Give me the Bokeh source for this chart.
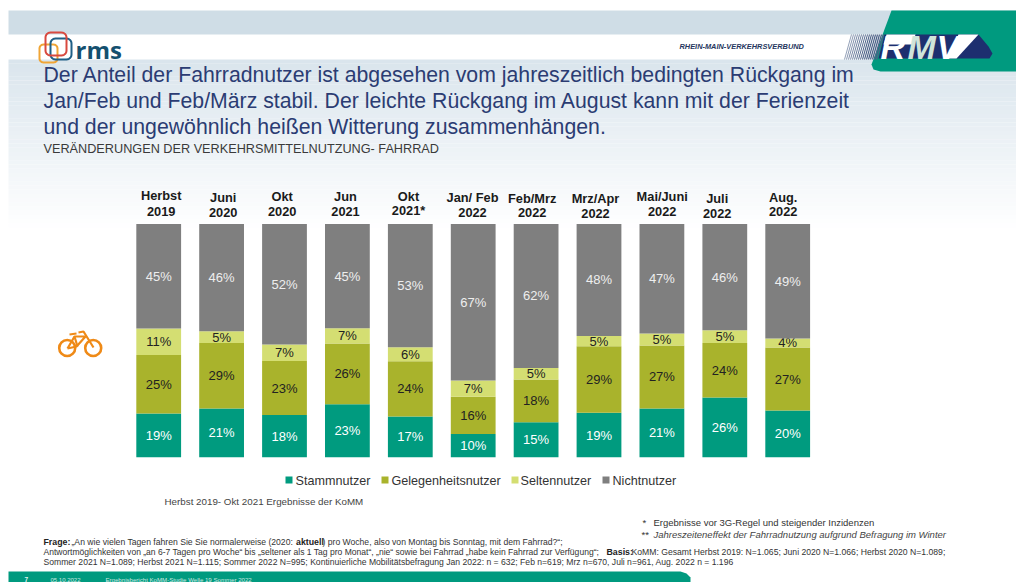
from bokeh.plotting import figure
from bokeh.embed import file_html
from bokeh.resources import INLINE
from bokeh.core.properties import value
from bokeh.models import Range1d
import math

# ---- data ----
top_line = ["Herbst", "Juni", "Okt", "Jun", "Okt", "Jan/ Feb", "Feb/Mrz", "Mrz/Apr", "Mai/Juni", "Juli", "Aug."]
bottom_line = ["2019", "2020", "2020", "2021", "2021*", "2022", "2022", "2022", "2022", "2022", "2022"]
stamm = [18.7, 20.9, 18.1, 22.7, 17.4, 9.9, 15.0, 19.0, 20.9, 25.6, 20.0]
gelegen = [25.1, 28.1, 23.1, 26.0, 23.7, 16.0, 18.3, 28.6, 27.0, 23.4, 27.0]
selten = [11.4, 5.0, 7.1, 6.6, 6.0, 7.0, 4.9, 4.4, 5.1, 5.4, 3.9]
nicht = [44.8, 46.0, 51.7, 44.7, 52.9, 67.1, 61.8, 48.0, 47.0, 45.6, 49.1]
stamm_lbl = ["19%", "21%", "18%", "23%", "17%", "10%", "15%", "19%", "21%", "26%", "20%"]
gelegen_lbl = ["25%", "29%", "23%", "26%", "24%", "16%", "18%", "29%", "27%", "24%", "27%"]
selten_lbl = ["11%", "5%", "7%", "7%", "6%", "7%", "5%", "5%", "5%", "5%", "4%"]
nicht_lbl = ["45%", "46%", "52%", "45%", "53%", "67%", "62%", "48%", "47%", "46%", "49%"]
series_names = ["Stammnutzer", "Gelegenheitsnutzer", "Seltennutzer", "Nichtnutzer"]
series_colors = ["#009b7f", "#a9b32c", "#d4de72", "#7f7f7f"]
label_colors = ["#ffffff", "#222222", "#222222", "#eeeeee"]

title_lines = [
    "Der Anteil der Fahrradnutzer ist abgesehen vom jahreszeitlich bedingten Rückgang im",
    "Jan/Feb und Feb/März stabil. Der leichte Rückgang im August kann mit der Ferienzeit",
    "und der ungewöhnlich heißen Witterung zusammenhängen.",
]
subtitle = "VERÄNDERUNGEN DER VERKEHRSMITTELNUTZUNG- FAHRRAD"

W, H = 1016, 582
FONT = value("Liberation Sans")
BAR_X0, BAR_STEP = 158.2, 62.9
PCT_BOTTOM, PCT_PX = 456.7, 2.333

p = figure(width=W, height=H, output_backend="svg", toolbar_location=None,
           x_range=Range1d(-BAR_X0 / BAR_STEP, (W - BAR_X0) / BAR_STEP),
           y_range=Range1d((PCT_BOTTOM - H) / PCT_PX, PCT_BOTTOM / PCT_PX),
           min_border=0, outline_line_color=None, x_axis_type=None, y_axis_type=None)
p.grid.visible = False
p.background_fill_color = "#ffffff"
p.border_fill_color = "#ffffff"
p.extra_x_ranges["px"] = Range1d(0, W)
p.extra_y_ranges["px"] = Range1d(H, 0)
PX = dict(x_range_name="px", y_range_name="px")


def txt(x, y, s, size, color="#333333", style="normal", align="left", font=FONT):
    p.text(x=[x], y=[y], text=[s], text_font=font, text_font_size=value(f"{size}px"),
           text_font_style=style, text_color=color, text_align=align, text_baseline="middle", **PX)


def rrect(x0, y0, x1, y1, r, color, lw=2):
    pts = []
    for cx, cy, a0 in [(x1 - r, y0 + r, -90), (x1 - r, y1 - r, 0), (x0 + r, y1 - r, 90), (x0 + r, y0 + r, 180)]:
        for k in range(7):
            a = math.radians(a0 + 15 * k)
            pts.append((cx + r * math.cos(a), cy + r * math.sin(a)))
    pts.append(pts[0])
    p.line([a for a, _ in pts], [b for _, b in pts], line_color=color, line_width=lw, **PX)


# ---- slide background ----
p.quad(left=[8], right=[1016], top=[10], bottom=[34], fill_color="#cfdde6", line_color=None, **PX)
steps = 40
for k in range(steps):
    t = k / steps
    c0, c1 = (218, 229, 237), (255, 255, 255)
    col = "#%02x%02x%02x" % tuple(round(a + (b - a) * t) for a, b in zip(c0, c1))
    y = 59 + k * 4.2
    p.quad(left=[8], right=[1016], top=[y], bottom=[y + 4.3], fill_color=col, line_color=None, **PX)

# ---- RMV logo ----
p.patch([891, 1016, 1016, 880, 873, 871], [10, 10, 71, 71, 69, 64], fill_color="#009a7f", line_color=None, **PX)
for k in range(17):
    x = 847 + k * 2
    p.line([x + 4, x - 3], [34, 59], line_color="#4c6288", line_width=0.6 + k * 0.05, **PX)
p.patch([884, 978, 988, 992, 989, 878], [34, 34, 46, 53, 58, 58], fill_color="#1d2f6f", line_color=None, **PX)
p.patch([886, 915, 912, 883], [34, 34, 44, 44], fill_color="#ffffff", line_color=None, **PX)
p.patch([958, 978, 956, 947], [34, 34, 58, 58], fill_color="#ffffff", line_color=None, **PX)
txt(880, 46.5, "R", 34, "#ffffff", "bold italic")
txt(907, 46.5, "M", 34, "#cfe4da", "bold italic")
txt(936, 46.5, "V", 34, "#ffffff", "bold italic")
txt(679, 46, "RHEIN-MAIN-VERKEHRSVERBUND", 7.4, "#26365e", "bold italic")

# ---- rms logo ----
rrect(39, 44, 57, 62, 4, "#f0a536")
rrect(50, 38, 71, 59, 5, "#1f5f86")
rrect(45, 32, 66, 55, 5, "#d8493f")
txt(75, 49, "rms", 24, "#14506f", "bold", font=value("Open Sans"))

# ---- headline ----
for k, line in enumerate(title_lines):
    txt(43, 74.3 + 26 * k, line, 21.25, "#2b3c73")
txt(43, 148.3, subtitle, 12.7, "#3a3a3a")

# ---- stacked bars ----
xs = list(range(len(stamm)))
base = [0.0] * len(xs)
for vals, lbls, col, lcol in zip([stamm, gelegen, selten, nicht], [stamm_lbl, gelegen_lbl, selten_lbl, nicht_lbl],
                                 series_colors, label_colors):
    tops = [b + v for b, v in zip(base, vals)]
    p.vbar(x=xs, bottom=base, top=tops, width=0.712, fill_color=col, line_color=None)
    mids = [(b + t) / 2 for b, t in zip(base, tops)]
    p.text(x=xs, y=mids, text=lbls, text_font=FONT, text_font_size=value("13px"), text_color=lcol,
           text_align="center", text_baseline="middle")
    base = tops

# ---- category labels ----
cat_x = [160.7, 222.7, 281.7, 345, 408, 472, 531.7, 595, 661.7, 716.7, 782.7]
cat_y1 = [195, 197, 196, 196, 196, 197, 198, 198, 196, 198, 197]
cat_y2 = [211, 212, 211, 211, 210, 212, 212, 213, 211, 213, 211]
for x, y1, y2, a, b in zip(cat_x, cat_y1, cat_y2, top_line, bottom_line):
    txt(x, y1, a, 12.8, "#1a1a1a", "bold", "center")
    txt(x, y2, b, 12.8, "#1a1a1a", "bold", "center")

# ---- bike icon ----
BIKE = "#ef8a17"
p.circle(x=[66.7, 92.7], y=[347.5, 347.5], radius=8, fill_color=None, line_color=BIKE, line_width=2.6, **PX)
for xx, yy in [([67, 74, 85, 76, 67], [348, 336, 336, 346, 348]), ([93, 83, 78], [347, 331, 332]),
               ([69, 76], [334, 333]), ([74, 77], [336, 346])]:
    p.line(xx, yy, line_color=BIKE, line_width=2.2, **PX)

# ---- legend ----
leg_sq = [285, 381, 511, 602]
leg_tx = [295, 391, 520, 612]
for sx, tx, name, col in zip(leg_sq, leg_tx, series_names, series_colors):
    p.quad(left=[sx], right=[sx + 7], top=[476], bottom=[483], fill_color=col, line_color=None, **PX)
    txt(tx, 480, name, 12.6, "#333333")
txt(164, 501, "Herbst 2019- Okt 2021 Ergebnisse der KoMM", 9.8, "#444444")

# ---- notes ----
txt(642, 522, "*", 9.5)
txt(653, 522, "Ergebnisse vor 3G-Regel und steigender Inzidenzen", 9.5)
txt(641, 534, "**", 9.5)
txt(653, 534, "Jahreszeiteneffekt der Fahrradnutzung aufgrund Befragung im Winter", 9.5, "#444444", "italic")

txt(43, 541.3, "Frage:", 8.8, "#222222", "bold")
txt(71, 541.3, "„An wie vielen Tagen fahren Sie Sie normalerweise (2020:", 8.65)
txt(295.5, 541.3, "aktuell", 8.8, "#222222", "bold")
txt(322, 541.3, ") pro Woche, also von Montag bis Sonntag, mit dem Fahrrad?“;", 8.6)
txt(43, 551.3, "Antwortmöglichkeiten von „an 6-7 Tagen pro Woche“ bis „seltener als 1 Tag pro Monat“, „nie“ sowie bei Fahrrad „habe kein Fahrrad zur Verfügung“;", 8.55)
txt(606, 551.3, "Basis:", 8.8, "#222222", "bold")
txt(631, 551.3, "KoMM: Gesamt Herbst 2019: N=1.065; Juni 2020 N=1.066; Herbst 2020 N=1.089;", 8.65)
txt(43, 561.5, "Sommer 2021 N=1.089; Herbst 2021 N=1.115; Sommer 2022 N=995; Kontinuierliche Mobilitätsbefragung Jan 2022: n = 632; Feb n=619; Mrz n=670, Juli n=961, Aug. 2022 n = 1.196", 8.6)

# ---- footer band ----
p.patch([8, 680, 686, 690, 690, 8], [571, 571, 573, 577, 582, 582], fill_color="#009a7f", line_color=None, **PX)
txt(24, 579, "7", 6.5, "#e6f5f0", "bold")
txt(50, 579, "05.10.2022", 6, "#cfe9e1")
txt(105, 579, "Ergebnisbericht KoMM-Studie Welle 19 Sommer 2022", 6.1, "#cfe9e1")

open("out.html", "w").write(file_html(p, INLINE))
